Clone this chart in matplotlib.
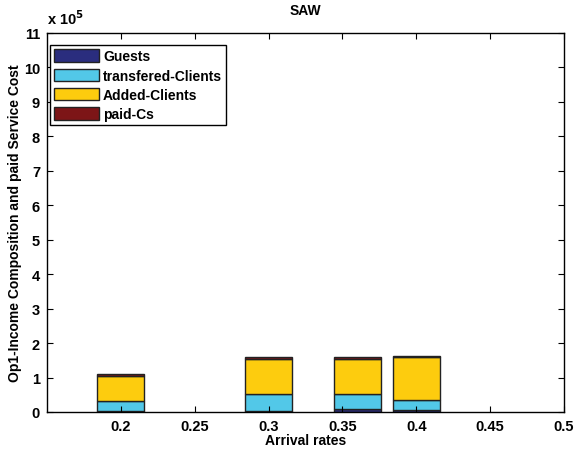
import matplotlib
matplotlib.use('Agg')
import matplotlib.pyplot as plt
import numpy as np

plt.rcParams['font.family'] = ['Liberation Sans', 'DejaVu Sans']
plt.rcParams['font.weight'] = 'bold'
plt.rcParams['axes.labelweight'] = 'bold'
plt.rcParams['axes.titleweight'] = 'bold'
plt.rcParams['font.size'] = 10

# arrival rates and stacked components (units of 1e5)
rates = [0.2, 0.3, 0.36, 0.4]
guests = [0.02, 0.04, 0.09, 0.07]
transfered = [0.31, 0.49, 0.44, 0.29]
added = [0.72, 1.00, 1.00, 1.23]
paid = [0.05, 0.07, 0.08, 0.04]

names = ['Guests', 'transfered-Clients', 'Added-Clients', 'paid-Cs']
colors = ['#2a2d7e', '#52c8e8', '#fdcc0e', '#7d1517']

xticks = [0.2, 0.25, 0.3, 0.35, 0.4, 0.45, 0.5]
xticklabels = ['0.2', '0.25', '0.3', '0.35', '0.4', '0.45', '0.5']

fig = plt.figure(figsize=(5.76, 4.52), dpi=100)
ax = fig.add_axes([0.0816, 0.0863, 0.8976, 0.8385])

bottom = np.zeros(len(rates))
for vals, name, c in zip([guests, transfered, added, paid], names, colors):
    ax.bar(rates, vals, width=0.032, bottom=bottom, color=c,
           edgecolor='#222222', linewidth=1.0, label=name)
    bottom += np.array(vals)

ax.set_xlim(0.15, 0.5)
ax.set_ylim(0, 11)
ax.set_xticks(xticks)
ax.set_xticklabels(xticklabels, fontsize=10.5)
ax.set_yticks(range(0, 12))
ax.set_yticklabels([str(v) for v in range(0, 12)], fontsize=10.5)
ax.tick_params(direction='in', top=True, right=True, length=4, width=0.8, pad=5)
for s in ax.spines.values():
    s.set_linewidth(1.0)

ax.set_title('SAW', fontsize=10, pad=14)
ax.set_xlabel('Arrival rates', labelpad=0)
ax.set_ylabel('Op1-Income Composition and paid Service Cost', labelpad=1)
ax.text(0.0, 1.016, r'x 10$^{\mathbf{5}}$', transform=ax.transAxes,
        ha='left', va='bottom', fontsize=10.5, fontweight='bold')

leg = ax.legend(loc='upper left', bbox_to_anchor=(0.006, 0.968),
                fancybox=False, framealpha=1, edgecolor='black',
                borderpad=0.3, labelspacing=0.38, borderaxespad=0,
                handlelength=3.2, handleheight=1.0, handletextpad=0.3,
                prop={'weight': 'bold', 'size': 10})
leg.get_frame().set_linewidth(1.0)

fig.savefig('out.png', dpi=100)
